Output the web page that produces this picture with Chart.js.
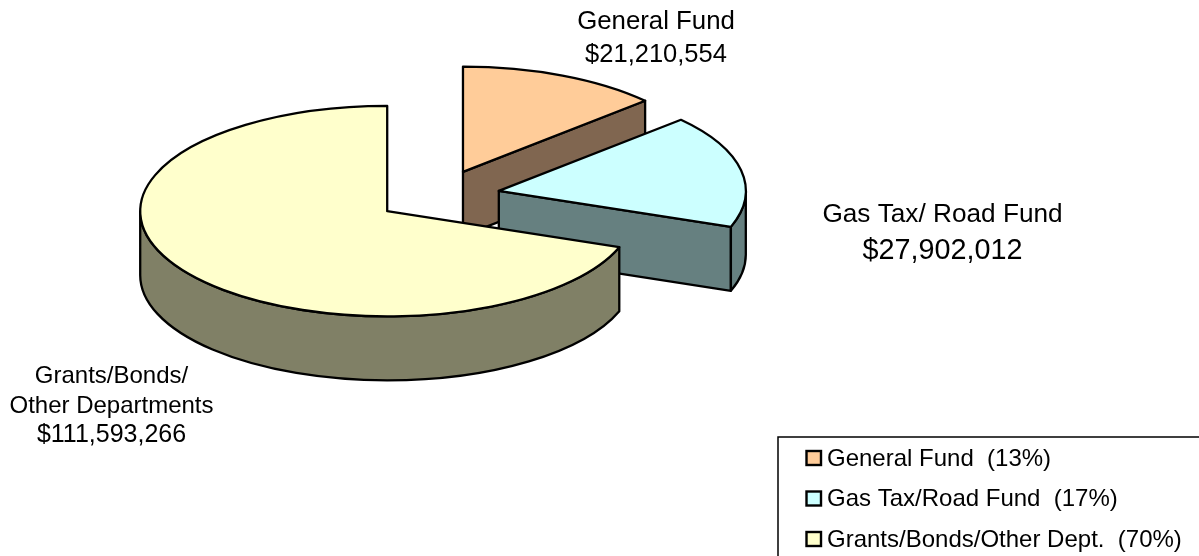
<!DOCTYPE html>
<html><head><meta charset="utf-8">
<style>html,body{margin:0;padding:0;background:#fff}canvas{display:block}</style>
<script src="https://cdn.jsdelivr.net/npm/chart.js@4"></script>
</head><body>
<canvas id="c" width="1199" height="556"></canvas>
<script>
const categories = ['General Fund', 'Gas Tax/Road Fund', 'Grants/Bonds/Other Dept.'];
const amounts = [21210554, 27902012, 111593266];
const shareLabels = ['13%', '17%', '70%'];
const sliceLabels = [
  ['General Fund', '$21,210,554'],
  ['Gas Tax/ Road Fund', '$27,902,012'],
  ['Grants/Bonds/', 'Other Departments', '$111,593,266']
];
const topColors = ['#FFCC99', '#CCFFFF', '#FFFFCC'];
const sideColors = ['#806650', '#668080', '#808066'];

const SQUASH = 0.426, DEPTH = 64, EXPLODE = 62, LINE = 2.3;
const FONT = '"Liberation Sans", Arial, sans-serif';
const labelStyle = [
  {cx: 656, ys: [21.5, 54.5], sizes: [25.8, 25.5]},
  {cx: 942.5, ys: [214.5, 251], sizes: [26.2, 28.8]},
  {cx: 111.5, ys: [376, 406, 435.5], sizes: [24, 24, 25]}
];

const pie3d = {
  id: 'pie3d',
  beforeDatasetsDraw(chart) {
    const ctx = chart.ctx;
    const arcs = chart.getDatasetMeta(0).data;
    arcs.forEach((el, i) => {
      const a1 = el.startAngle, a2 = el.endAngle, mid = (a1 + a2) / 2, r = el.outerRadius;
      const cx = el.x + Math.cos(mid) * EXPLODE;
      const cy = el.y + Math.sin(mid) * EXPLODE * SQUASH;
      const px = a => cx + Math.cos(a) * r;
      const py = a => cy + Math.sin(a) * r * SQUASH;
      ctx.save();
      ctx.lineWidth = LINE; ctx.strokeStyle = '#000'; ctx.lineJoin = 'round';
      ctx.fillStyle = sideColors[i];
      const wall = a => {
        ctx.beginPath();
        ctx.moveTo(cx, cy); ctx.lineTo(px(a), py(a));
        ctx.lineTo(px(a), py(a) + DEPTH); ctx.lineTo(cx, cy + DEPTH);
        ctx.closePath(); ctx.fill(); ctx.stroke();
      };
      if (Math.cos(a1) < 0) wall(a1);
      if (Math.cos(a2) > 0) wall(a2);
      const s = Math.max(a1, 0), e = Math.min(a2, Math.PI);
      if (e > s) {
        ctx.beginPath();
        ctx.ellipse(cx, cy, r, r * SQUASH, 0, s, e);
        ctx.ellipse(cx, cy + DEPTH, r, r * SQUASH, 0, e, s, true);
        ctx.closePath(); ctx.fill(); ctx.stroke();
      }
      ctx.save();
      ctx.translate(cx, cy); ctx.scale(1, SQUASH); ctx.translate(-el.x, -el.y);
      el.draw(ctx);
      ctx.restore();
      ctx.beginPath();
      ctx.moveTo(cx, cy);
      ctx.ellipse(cx, cy, r, r * SQUASH, 0, a1, a2);
      ctx.closePath(); ctx.stroke();
      ctx.restore();
    });
    return false;
  },
  afterDraw(chart) {
    const ctx = chart.ctx;
    ctx.save();
    ctx.fillStyle = '#000';
    ctx.textAlign = 'center'; ctx.textBaseline = 'middle';
    sliceLabels.forEach((lines, i) => {
      const st = labelStyle[i];
      lines.forEach((t, j) => {
        ctx.font = st.sizes[j] + 'px ' + FONT;
        ctx.fillText(t, st.cx, st.ys[j]);
      });
    });
    ctx.strokeStyle = '#000'; ctx.lineWidth = 1.5;
    ctx.beginPath(); ctx.moveTo(778, 557); ctx.lineTo(778, 437); ctx.lineTo(1200, 437); ctx.stroke();
    ctx.textAlign = 'left';
    ctx.font = '24px ' + FONT;
    const rows = [458, 498.5, 539];
    categories.forEach((c, i) => {
      ctx.fillStyle = topColors[i]; ctx.lineWidth = 2.4;
      ctx.fillRect(806.5, rows[i] - 7, 14.5, 14);
      ctx.strokeRect(806.5, rows[i] - 7, 14.5, 14);
      ctx.fillStyle = '#000';
      ctx.fillText(c + '  (' + shareLabels[i] + ')', 827, rows[i] + 1);
    });
    ctx.restore();
  }
};

new Chart(document.getElementById('c'), {
  type: 'pie',
  data: {labels: categories, datasets: [{data: amounts, backgroundColor: topColors, borderWidth: 0}]},
  options: {
    responsive: false, animation: false, radius: 247, rotation: 0,
    layout: {padding: {left: 0, top: 0, right: 323, bottom: 164}},
    plugins: {legend: {display: false}, tooltip: {enabled: false}}
  },
  plugins: [pie3d]
});
</script>
</body></html>
